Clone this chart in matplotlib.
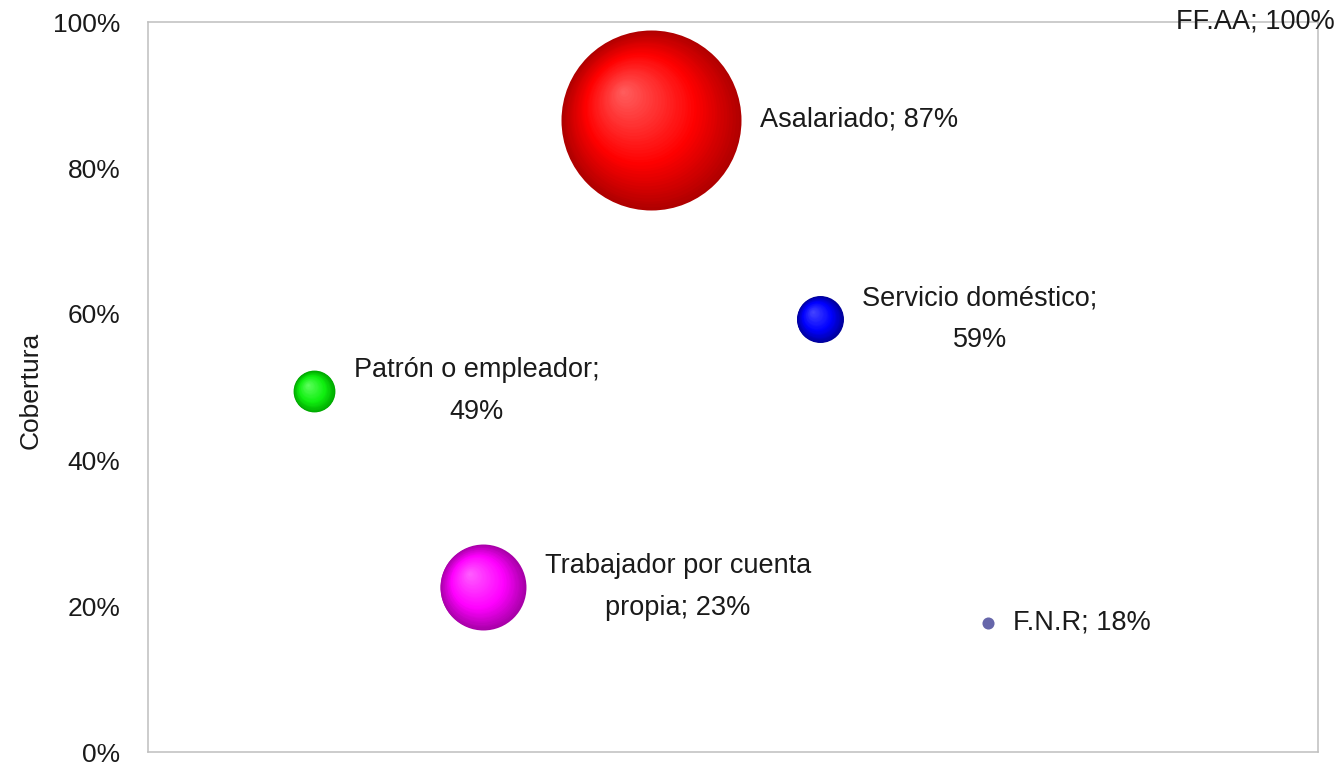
import numpy as np
import matplotlib
matplotlib.use('Agg')
import matplotlib.pyplot as plt
from matplotlib.transforms import ScaledTranslation
from matplotlib.colors import to_rgb
from matplotlib.ticker import PercentFormatter

plt.rcParams['font.family'] = ['Liberation Sans Narrow', 'DejaVu Sans Condensed', 'Liberation Sans']
plt.rcParams['font.stretch'] = 'condensed'

categorias = ["Patrón o empleador", "Trabajador por cuenta propia", "Asalariado",
              "Servicio doméstico", "F.N.R", "FF.AA"]
etiquetas = ["Patrón o empleador;\n49%", "Trabajador por cuenta\npropia; 23%", "Asalariado; 87%",
             "Servicio doméstico;\n59%", "F.N.R; 18%", "FF.AA; 100%"]
pos_x = [1, 2, 3, 4, 5, 6]
cobertura = [0.494, 0.226, 0.866, 0.593, 0.177, 1.0]
# tamaño relativo de la burbuja (área)
tamano = [5.4, 22.8, 100.0, 6.8, 0.45, 0.0]

# borde, base, brillo
colores = [("#00A800", "#10F010", "#60FF60"),
           ("#A800A8", "#FF00FF", "#FF60FF"),
           ("#B00000", "#FF0000", "#FF6060"),
           ("#00009A", "#0000FF", "#4848FF"),
           None,
           None]
color_plano = "#6666AA"

fig = plt.figure(figsize=(13.41, 7.64), dpi=100)
ax = fig.add_axes([148/1341, 12/764, 1170/1341, 730/764])

diam_max = 129.6  # puntos


def mezcla(a, b, f):
    a, b = np.array(to_rgb(a)), np.array(to_rgb(b))
    return tuple(a + (b - a) * min(max(f, 0), 1))


def esfera(x, y, d, c, n=40):
    borde, base, brillo = c
    R = d / 2
    for i in range(n):
        t = 1 - i / n
        off = (1 - t) * 0.32 * R
        if t > 0.62:
            col = mezcla(borde, base, (1 - t) / 0.38)
        else:
            col = mezcla(base, brillo, (0.62 - t) / 0.62)
        tr = ax.transData + ScaledTranslation(-off/72, off/72, fig.dpi_scale_trans)
        ax.scatter([x], [y], s=(d*t)**2, color=col, linewidths=0, transform=tr, zorder=3)


for x, y, tam, c, lab in zip(pos_x, cobertura, tamano, colores, etiquetas):
    d = diam_max * np.sqrt(tam / 100)
    if d > 0:
        if c is None:
            ax.scatter([x], [y], s=d**2, color=color_plano, linewidths=0, zorder=3)
        else:
            esfera(x, y, d, c)
    ax.annotate(lab, (x, y), xytext=(d/2 + 13.7, 0), textcoords='offset points',
                ha='left', va='center', multialignment='center', fontsize=19.5,
                linespacing=1.8, color='#1a1a1a', annotation_clip=False, zorder=4)

ax.set_xlim(0.015, 6.955)
ax.set_ylim(0, 1)
ax.set_yticks(np.arange(0, 1.01, 0.2))
ax.yaxis.set_major_formatter(PercentFormatter(1.0, decimals=0))
ax.set_xticks([])
ax.tick_params(axis='y', length=0, pad=20, labelsize=19, labelcolor='#1a1a1a')
ax.set_ylabel("Cobertura", fontsize=19, color='#1a1a1a')
ax.yaxis.set_label_coords(-0.1, 0.496)
ax.yaxis.label.set_va('center')
for s in ax.spines.values():
    s.set_color('#BFBFBF')
    s.set_linewidth(1.1)

fig.savefig("out.png", dpi=100)
